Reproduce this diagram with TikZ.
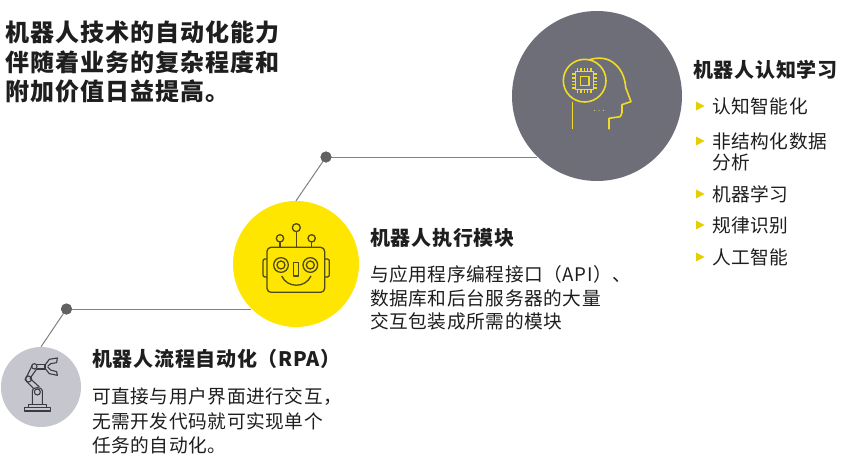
\documentclass[tikz,border=0pt]{standalone}
\usepackage{fontspec}
\setmainfont{Noto Sans CJK SC}
\definecolor{eyyellow}{HTML}{FFE600}
\definecolor{biggray}{HTML}{6E6E78}
\definecolor{lightgray2}{HTML}{C6C6CF}
\definecolor{linegray}{HTML}{808080}
\definecolor{dotgray}{HTML}{626262}
\definecolor{txt}{HTML}{1E1E1E}
\definecolor{iconblue}{HTML}{3A3A44}
\definecolor{iconbrown}{HTML}{4F4A10}
\definecolor{iconyellow}{HTML}{F0DC28}
\tikzset{
  disc/.style={circle,inner sep=0pt,draw=none},
  dot/.style={circle,fill=dotgray,inner sep=0pt,minimum size=11pt},
  conn/.style={draw=linegray,line width=1pt},
  titletext/.style={anchor=west,inner sep=0pt,text=txt,font=\fontsize{24}{24}\selectfont\bfseries\addfontfeature{LetterSpace=4.5}},
  headtext/.style={anchor=west,inner sep=0pt,text=txt,font=\fontsize{20}{20}\selectfont\bfseries\addfontfeature{LetterSpace=3.5}},
  bodytext/.style={anchor=west,inner sep=0pt,text=txt,font=\fontsize{18.7}{18.7}\selectfont\addfontfeature{LetterSpace=3}},
  bullet/.style={fill=eyyellow!90!black,draw=none}
}
\begin{document}
\begin{tikzpicture}[x=1pt,y=-1pt]
\useasboundingbox (0,0) rectangle (843,460);
\fill[white] (0,0) rectangle (843,460);
% dots and discs
\node[dot] (dotA) at (326,157) {};
\node[dot] (dotB) at (66.5,309) {};
\node[disc,minimum size=170pt] (big) at (597,96) {};
\node[disc,minimum size=126pt] (mid) at (296,264) {};
\node[disc,minimum size=80pt] (small) at (41,387) {};
% connectors
\draw[conn] (dotA.center) -- (dotA.center -| big.south west);
\draw[conn] (dotA.center) -- (mid.north);
\draw[conn] (dotB.center) -- (mid.south west |- dotB.center);
\draw[conn] (dotB.center) -- (small.north);
\node[dot] at (dotA) {};
\node[dot] at (dotB) {};
\fill[biggray] (big) circle (85);
\fill[eyyellow] (mid) circle (63);
\fill[lightgray2] (small) circle (40);
% head icon
\begin{scope}[shift={(510,10)},x=0.3333pt,y=-0.3333pt,draw=iconyellow,line width=1.6pt,line join=round]
  \draw (224,212) circle (64);
  \draw (197,185) rectangle (251,239);
  \draw (211,199) rectangle (237,226);
  \foreach \t in {205,215,225,235,245}{
    \draw (\t-2,175) -- (\t-2,185);
    \draw (\t-2,239) -- (\t-2,249);
  }
  \foreach \t in {193,205,215,225,235}{
    \draw (187,\t-1) -- (197,\t-1);
    \draw (251,\t-1) -- (261,\t-1);
  }
  \draw (236,150) .. controls (262,141) and (295,141) .. (318,165)
     .. controls (340,185) and (346,215) .. (347,232)
     -- (363,275) -- (336,284) -- (336,308) -- (331,320) -- (297,325) -- (297,358);
  \draw (187,275) -- (187,358);
  \foreach \t in {254,267,280} \fill[iconyellow!70!white] (\t,301) circle (1.7);
\end{scope}
% robot icon
\begin{scope}[shift={(230,195)},x=0.3333pt,y=-0.3333pt,draw=iconbrown,line width=1.3pt,line join=round]
  \draw[rounded corners=4pt] (111,157) rectangle (284,292);
  \draw[rounded corners=2pt] (111,192) -- (99,192) -- (99,246) -- (111,246);
  \draw[rounded corners=2pt] (284,192) -- (298,192) -- (298,246) -- (284,246);
  \draw (199,98) circle (12);
  \draw (199,110) -- (199,157);
  \draw (150,130) circle (11);
  \draw (150,141) -- (150,157);
  \draw (245,130) circle (11);
  \draw (245,141) -- (245,157);
  \draw (153,210) circle (22);
  \draw (153,210) circle (12);
  \draw (241,210) circle (22);
  \draw (241,210) circle (12);
  \draw (191,203) rectangle (206,243);
  \draw (155,243) .. controls (172,280) and (226,280) .. (243,243);
\end{scope}
% robot arm icon
\begin{scope}[shift={(0,295)},x=0.3333pt,y=-0.3333pt,draw=iconblue,line width=1.1pt,line join=round]
  \draw (73,348) rectangle (152,338);
  \draw (85,338) -- (85,328) -- (140,328) -- (140,338);
  \draw (97,328) -- (97,287) .. controls (97,275) and (127,275) .. (127,287) -- (127,328);
  \draw (112,291) circle (9);
  \draw (100,280) -- (75,254) -- (97,211);
  \draw (118,276) -- (90,250) -- (110,222);
  \draw (86,252) circle (9);
  \draw (103,214) circle (8);
  \draw (110,208) -- (135,208) -- (135,222) -- (110,222);
  \draw (135,210) -- (148,193) -- (172,189) -- (170,203) -- (152,206) -- (143,214);
  \draw (135,220) -- (148,236) -- (172,241) -- (170,230) -- (152,225) -- (143,216);
\end{scope}
% texts
\node[titletext] (t1) at (5,32) {机器人技术的自动化能力};
\node[titletext] (t2) at (5,62) {伴随着业务的复杂程度和};
\node[titletext] (t3) at (5,91) {附加价值日益提高。};
\node[headtext] (h1) at (693,70) {机器人认知学习};
\node[bodytext] (c1) at (712,106) {认知智能化};
\node[bodytext] (c2) at (712,141) {非结构化数据};
\node[bodytext] (c3) at (712,162) {分析};
\node[bodytext] (c4) at (712,194) {机器学习};
\node[bodytext] (c5) at (712,225) {规律识别};
\node[bodytext] (c6) at (712,257) {人工智能};
\foreach \y in {106,141,194,225,257}
  \fill[bullet] (696,\y-4.5) -- (704.5,\y) -- (696,\y+4.5) -- cycle;
\node[headtext] (h2) at (370,238) {机器人执行模块};
\node[bodytext] (m1) at (370,274) {与应用程序编程接口（API）、};
\node[bodytext] (m2) at (370,298) {数据库和后台服务器的大量};
\node[bodytext] (m3) at (370,321) {交互包装成所需的模块};
\node[headtext] (h3) at (92,359) {机器人流程自动化（RPA）};
\node[bodytext] (b1) at (92,397) {可直接与用户界面进行交互，};
\node[bodytext] (b2) at (92,421) {无需开发代码就可实现单个};
\node[bodytext] (b3) at (92,445) {任务的自动化。};
\end{tikzpicture}
\end{document}
